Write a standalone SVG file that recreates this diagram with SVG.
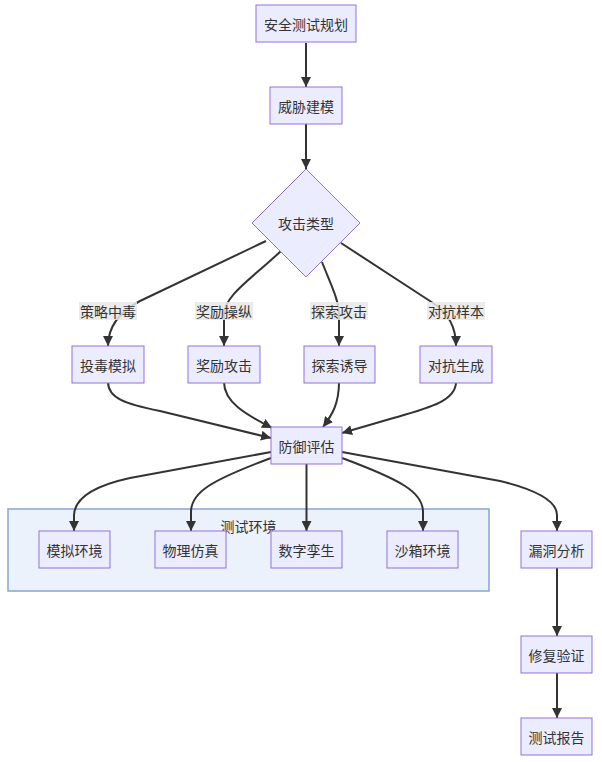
<svg xmlns="http://www.w3.org/2000/svg" width="602" height="762" viewBox="0 0 602 762">
<defs>
<style>
.node rect, .node polygon { fill: #ECECFF; stroke: #9370DB; stroke-width: 1; }
text { font-family: "Noto Sans CJK SC", "Noto Sans", sans-serif; font-size: 14px; fill: #333; text-anchor: middle; dominant-baseline: central; }
.edge { fill: none; stroke: #333; stroke-width: 2; marker-end: url(#arr); }
.lbl rect { fill: #E8E8E8; fill-opacity: 0.85; }
.cluster rect { fill: #EBF2FC; stroke: #84A6D0; stroke-width: 1.5; }
</style>
<marker id="arr" viewBox="0 0 10 10" refX="10" refY="5" markerWidth="10" markerHeight="10" markerUnits="userSpaceOnUse" orient="auto">
<path d="M0,0 L10,5 L0,10 z" fill="#333"/>
</marker>
</defs>
<rect width="602" height="762" fill="#fff"/>

<g id="cluster-env" class="cluster">
<rect x="8" y="509" width="481" height="82"/>
<text x="248.5" y="526">测试环境</text>
</g>

<g id="edges">
<path class="edge" d="M306,43 L306,87"/>
<path class="edge" d="M306,124 L306,169"/>
<path class="edge" d="M266,241 L140,301 Q108,318 108,346"/>
<path class="edge" d="M281,251 C250,280 224,296 224,315 L224,346"/>
<path class="edge" d="M322,262 C331,285 339,300 339,315 L339,346"/>
<path class="edge" d="M341,243 L433,303 Q456,318 456,346"/>
<path class="edge" d="M108,382 C108,398 125,404 160,411 L271,438"/>
<path class="edge" d="M224,382 C224,402 245,414 272,428"/>
<path class="edge" d="M339,382 C339,404 332,415 323,427"/>
<path class="edge" d="M456,382 C456,402 425,409 390,419 L342,433"/>
<path class="edge" d="M271,452 L130,478 Q75,490 74,515 L74,531"/>
<path class="edge" d="M271,458 C212,480 191,492 191,512 L191,531"/>
<path class="edge" d="M306.5,464 L306.5,531"/>
<path class="edge" d="M342,458 C401,480 423,492 423,512 L423,531"/>
<path class="edge" d="M342,452 L500,481 Q557,495 557,515 L557,531"/>
<path class="edge" d="M557,568 L557,636"/>
<path class="edge" d="M557,673 L557,718"/>
</g>

<g id="edge-labels">
<g class="lbl"><rect x="79" y="302" width="58" height="18"/><text x="108" y="311">策略中毒</text></g>
<g class="lbl"><rect x="195" y="302" width="58" height="18"/><text x="224" y="311">奖励操纵</text></g>
<g class="lbl"><rect x="310" y="302" width="58" height="18"/><text x="339" y="311">探索攻击</text></g>
<g class="lbl"><rect x="427" y="302" width="58" height="18"/><text x="456" y="311">对抗样本</text></g>
</g>

<g id="n-plan" class="node"><rect x="256" y="5" width="100" height="37"/><text x="306" y="23.5">安全测试规划</text></g>
<g id="n-threat" class="node"><rect x="270" y="87" width="72" height="37"/><text x="306" y="105.5">威胁建模</text></g>
<g id="n-type" class="node"><polygon points="306,169 360,223 306,277 252,223"/><text x="306" y="223">攻击类型</text></g>
<g id="n-poison" class="node"><rect x="72" y="346" width="72" height="37"/><text x="108" y="364.5">投毒模拟</text></g>
<g id="n-reward" class="node"><rect x="188" y="346" width="72" height="37"/><text x="224" y="364.5">奖励攻击</text></g>
<g id="n-explore" class="node"><rect x="304" y="346" width="71" height="37"/><text x="339.5" y="364.5">探索诱导</text></g>
<g id="n-adv" class="node"><rect x="420" y="346" width="72" height="37"/><text x="456" y="364.5">对抗生成</text></g>
<g id="n-defense" class="node"><rect x="271" y="427" width="71" height="37"/><text x="306.5" y="445.5">防御评估</text></g>
<g id="n-sim" class="node"><rect x="39" y="531" width="71" height="37"/><text x="74.5" y="549.5">模拟环境</text></g>
<g id="n-phys" class="node"><rect x="155" y="531" width="71" height="37"/><text x="190.5" y="549.5">物理仿真</text></g>
<g id="n-twin" class="node"><rect x="271" y="531" width="71" height="37"/><text x="306.5" y="549.5">数字孪生</text></g>
<g id="n-sandbox" class="node"><rect x="387" y="531" width="71" height="37"/><text x="422.5" y="549.5">沙箱环境</text></g>
<g id="n-vuln" class="node"><rect x="521" y="531" width="71" height="37"/><text x="556.5" y="549.5">漏洞分析</text></g>
<g id="n-fix" class="node"><rect x="521" y="636" width="71" height="37"/><text x="556.5" y="654.5">修复验证</text></g>
<g id="n-report" class="node"><rect x="521" y="718" width="71" height="37"/><text x="556.5" y="736.5">测试报告</text></g>
</svg>
